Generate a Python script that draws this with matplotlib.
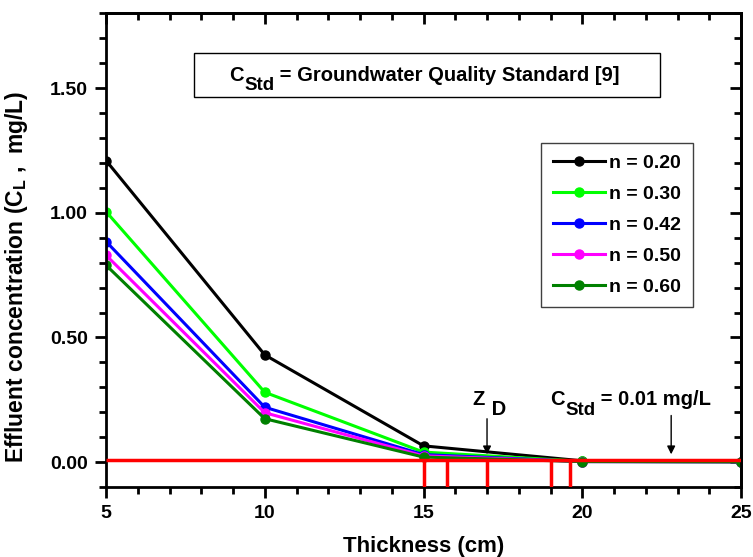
import matplotlib
matplotlib.use("Agg")
import matplotlib.pyplot as plt
from matplotlib.patches import Rectangle
from matplotlib.ticker import MultipleLocator

plt.rcParams['font.family'] = ['Liberation Sans', 'DejaVu Sans']
plt.rcParams['font.weight'] = 'bold'
plt.rcParams['mathtext.fontset'] = 'custom'
plt.rcParams['mathtext.rm'] = 'Liberation Sans:bold'
plt.rcParams['mathtext.bf'] = 'Liberation Sans:bold'
plt.rcParams['mathtext.default'] = 'bf'

# Dados
espessura = [5, 10, 15, 20, 25]
porosidades = ["n = 0.20", "n = 0.30", "n = 0.42", "n = 0.50", "n = 0.60"]
concentracoes = [
    [1.21, 0.43, 0.065, 0.005, 0.002],
    [1.005, 0.28, 0.040, 0.003, 0.001],
    [0.885, 0.22, 0.030, 0.002, 0.001],
    [0.83, 0.198, 0.025, 0.002, 0.001],
    [0.79, 0.174, 0.020, 0.002, 0.001],
]
cores = ["black", "#00FF00", "#0000FF", "#FF00FF", "#008000"]

c_std = 0.01
z_d = [15.0, 15.75, 17.0, 19.0, 19.6]


# Texto com subscrito grande (estilo Origin): base + sub + resto
def texto_sub(ax, x, y, base, sub, resto, size=14.5, subsize=13.5, queda=6.5):
    t1 = ax.text(x, y, base, ha='left', va='baseline', fontsize=size, fontweight='bold')
    t2 = ax.annotate(sub, xy=(1, 0), xycoords=t1, xytext=(0.5, -queda),
                     textcoords='offset points', ha='left', va='bottom',
                     fontsize=subsize, fontweight='bold')
    if resto:
        ax.annotate(resto, xy=(1, 0), xycoords=(t2, t1), xytext=(0, 0),
                    textcoords='offset points', ha='left', va='bottom',
                    fontsize=size, fontweight='bold')


fig = plt.figure(figsize=(7.53, 5.57), dpi=100)
ax = fig.add_axes([0.1408, 0.1257, 0.8433, 0.8501])

for y, cor, rotulo in zip(concentracoes, cores, porosidades):
    ax.plot(espessura, y, color=cor, lw=2.2, marker='o', ms=6.5, label=rotulo)

# Linha do padrão e espessuras Z_D
ax.hlines(c_std, 5, 25, color='red', lw=2.5, zorder=5)
ax.vlines(z_d, -0.1, c_std, color='red', lw=2.5, zorder=5)

ax.set_xlim(5, 25)
ax.set_ylim(-0.1, 1.8)
ax.set_xticks([5, 10, 15, 20, 25])
ax.set_yticks([0, 0.5, 1.0, 1.5])
ax.set_yticklabels(["0.00", "0.50", "1.00", "1.50"])
ax.xaxis.set_minor_locator(MultipleLocator(1))
ax.yaxis.set_minor_locator(MultipleLocator(0.1))
ax.tick_params(which='major', direction='out', length=8, width=2, labelsize=14, pad=5)
ax.tick_params(which='minor', direction='out', length=5, width=2)
for s in ax.spines.values():
    s.set_linewidth(2)

# Ticks espelhados (para dentro) no topo e à direita
topo = ax.secondary_xaxis('top')
topo.set_xticks([5, 10, 15, 20, 25])
topo.xaxis.set_minor_locator(MultipleLocator(1))
topo.tick_params(which='major', direction='in', length=8, width=2, labeltop=False)
topo.tick_params(which='minor', direction='in', length=5, width=2)
topo.spines['top'].set_linewidth(2)
direita = ax.secondary_yaxis('right')
direita.set_yticks([0, 0.5, 1.0, 1.5])
direita.yaxis.set_minor_locator(MultipleLocator(0.1))
direita.tick_params(which='major', direction='in', length=8, width=2, labelright=False)
direita.tick_params(which='minor', direction='in', length=5, width=2)
direita.spines['right'].set_linewidth(2)

ax.set_xlabel("Thickness (cm)", fontsize=16, fontweight='bold', labelpad=10)
ax.set_ylabel(r"Effluent concentration (C$_{L}$ ,  mg/L)", fontsize=16.5,
              fontweight='bold')
ax.yaxis.set_label_coords(-0.12, 0.443)

# Caixa do título
ax.add_patch(Rectangle((0.1386, 0.8237), 0.734, 0.0929, transform=ax.transAxes,
                       facecolor='white', edgecolor='black', lw=1))
texto_sub(ax, 8.87, 1.531, "C", "Std", " = Groundwater Quality Standard [9]")

# Anotações
ax.annotate("", xy=(17, 0.02), xytext=(17, 0.185),
            arrowprops=dict(arrowstyle='-|>', color='black', lw=1, mutation_scale=12))
texto_sub(ax, 16.55, 0.227, "Z", " D", "", size=14.5, subsize=14.5, queda=6.5)
ax.annotate("", xy=(22.8, 0.02), xytext=(22.8, 0.198),
            arrowprops=dict(arrowstyle='-|>', color='black', lw=1, mutation_scale=12))
texto_sub(ax, 18.98, 0.227, "C", "Std", " = 0.01 mg/L")

leg = ax.legend(loc='upper left', bbox_to_anchor=(0.685, 0.7265), fontsize=14,
                frameon=True, fancybox=False, edgecolor='#404040', framealpha=1,
                handlelength=2.7, labelspacing=0.68, handletextpad=0.2,
                borderpad=0.6, borderaxespad=0)
leg.get_frame().set_linewidth(1)

fig.savefig("out.png", dpi=100)
